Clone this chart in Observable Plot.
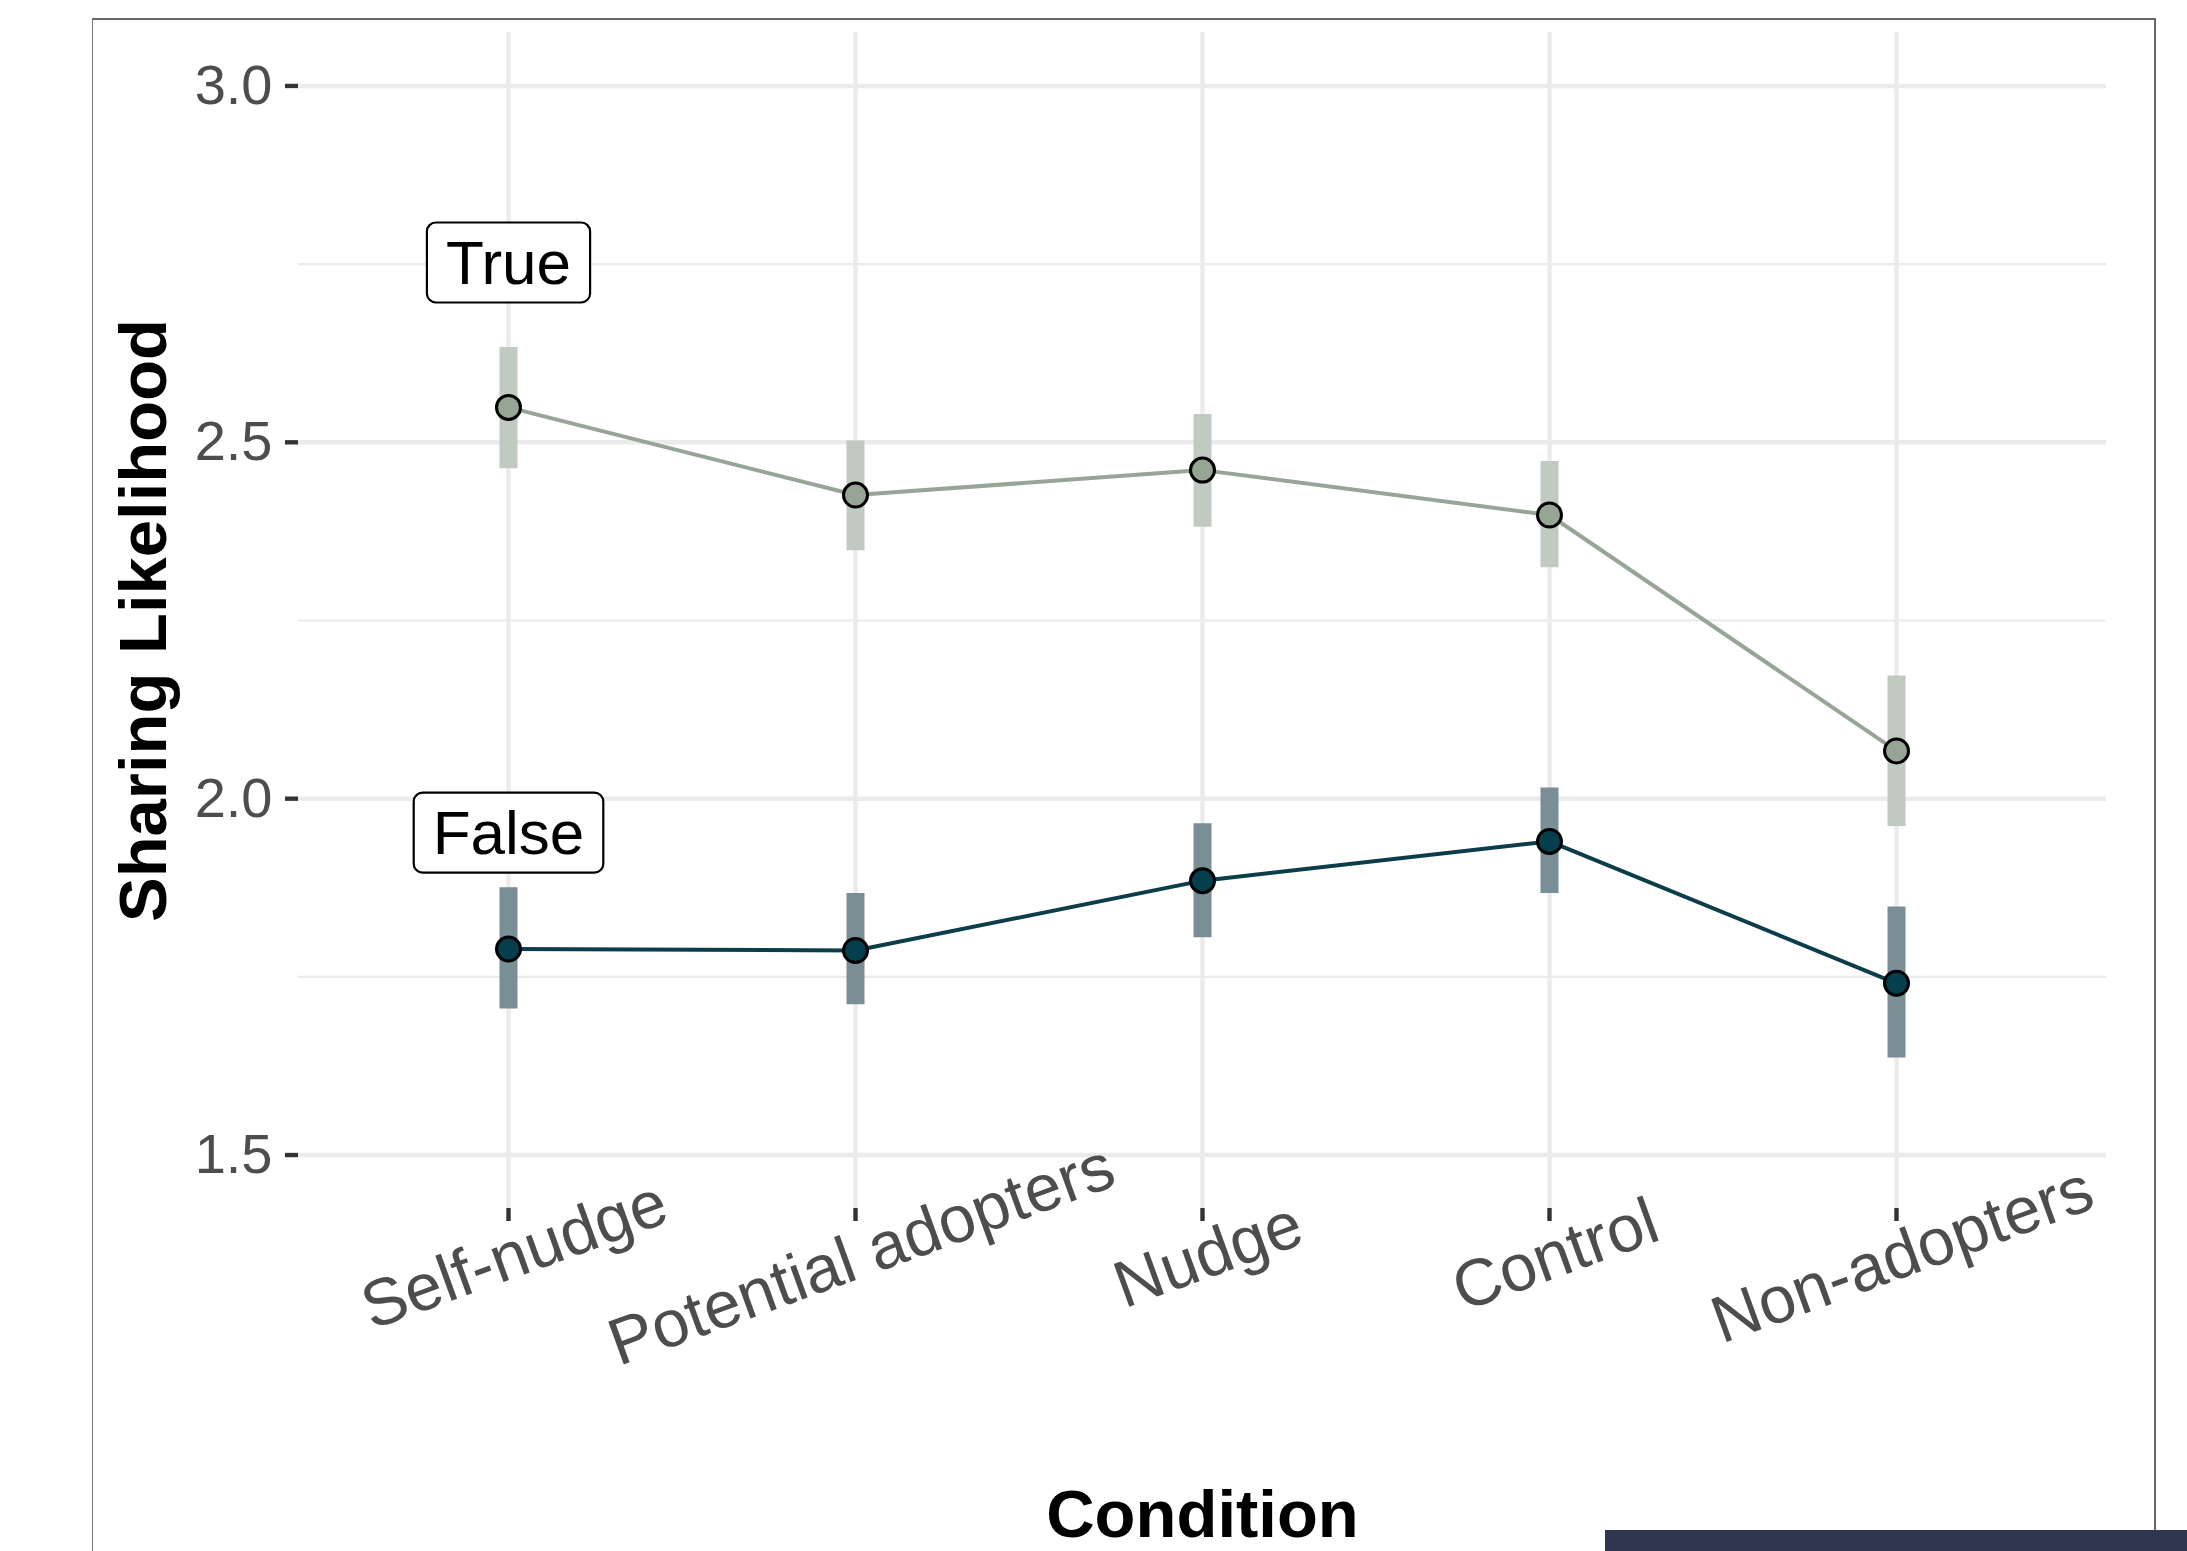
<!DOCTYPE html>
<html><head><meta charset="utf-8">
<script src="https://cdn.jsdelivr.net/npm/d3@7"></script>
<script src="https://cdn.jsdelivr.net/npm/@observablehq/plot@0.6"></script>
<style>
body{margin:0;background:#fff;}
#wrap{position:relative;width:2187px;height:1551px;overflow:hidden;font-family:"Liberation Sans",Arial,sans-serif;background:#fff;}
#frame{position:absolute;left:92px;top:18px;width:2064px;height:1600px;border-top:2px solid #666;border-left:1.5px solid #777;border-right:2px solid #666;box-sizing:border-box;}
#chart{position:absolute;left:0;top:0;}
#bar{position:absolute;left:1605px;top:1530px;width:582px;height:21px;background:#2f3750;}
</style></head><body>
<div id="wrap"><div id="frame"></div><div id="chart"></div><div id="bar"></div></div>
<script>
const categories = ["Self-nudge", "Potential adopters", "Nudge", "Control", "Non-adopters"];
const trueMean = [2.549, 2.426, 2.461, 2.398, 2.067];
const trueLow  = [2.463, 2.348, 2.381, 2.324, 1.961];
const trueHigh = [2.633, 2.502, 2.539, 2.473, 2.172];
const falseMean = [1.789, 1.787, 1.885, 1.940, 1.741];
const falseLow  = [1.705, 1.711, 1.805, 1.867, 1.636];
const falseHigh = [1.875, 1.867, 1.965, 2.015, 1.848];
const yTicks = [1.5, 2.0, 2.5, 3.0];
const yMinor = [1.75, 2.25, 2.75];
const labelText = ["True", "False"];
const labelY = [2.75, 1.95];
const xTitle = "Condition";
const yTitle = "Sharing Likelihood";

const trueRows = categories.map((c, i) => ({cond: c, mean: trueMean[i], lo: trueLow[i], hi: trueHigh[i]}));
const falseRows = categories.map((c, i) => ({cond: c, mean: falseMean[i], lo: falseLow[i], hi: falseHigh[i]}));
const labelRows = labelText.map((t, i) => ({text: t, cond: categories[0], y: labelY[i]}));

const font = '"Liberation Sans", Arial, Helvetica, sans-serif';
const grid = "#ebebeb";

const plot = Plot.plot({
  width: 2187, height: 1551,
  marginLeft: 298, marginRight: 81, marginTop: 32, marginBottom: 343,
  style: {fontFamily: font, background: "transparent", overflow: "visible"},
  x: {type: "point", domain: categories, padding: 0.6},
  y: {domain: [1.425, 3.075]},
  marks: [
    Plot.ruleY(yMinor, {stroke: grid, strokeWidth: 2.2}),
    Plot.ruleY(yTicks, {stroke: grid, strokeWidth: 4.4}),
    Plot.ruleX(categories, {stroke: grid, strokeWidth: 4.4}),
    Plot.ruleX(trueRows, {x: "cond", y1: "lo", y2: "hi", stroke: "#c1cac0", strokeWidth: 18}),
    Plot.ruleX(falseRows, {x: "cond", y1: "lo", y2: "hi", stroke: "#7a8e95", strokeWidth: 18}),
    Plot.line(trueRows, {x: "cond", y: "mean", stroke: "#97a596", strokeWidth: 4}),
    Plot.line(falseRows, {x: "cond", y: "mean", stroke: "#0b3d4a", strokeWidth: 4}),
    Plot.dot(trueRows, {x: "cond", y: "mean", r: 12, fill: "#97a594", stroke: "#000", strokeWidth: 3}),
    Plot.dot(falseRows, {x: "cond", y: "mean", r: 12, fill: "#053f4d", stroke: "#000", strokeWidth: 3}),
    Plot.axisY({ticks: yTicks, tickFormat: d3.format(".1f"), tickSize: 13, tickPadding: 13, fontSize: 56, fill: "#4d4d4d", stroke: "#333", strokeWidth: 4.4, label: null}),
    Plot.axisX({tickSize: 13, tickFormat: () => "", stroke: "#333", strokeWidth: 4.4, label: null}),
    Plot.text(categories, {x: d => d, text: d => d, frameAnchor: "bottom", dy: 47, dx: 6, rotate: -20, textAnchor: "middle", lineAnchor: "middle", fontSize: 66, fill: "#4d4d4d"}),
    Plot.text(labelRows, {x: "cond", y: "y", text: "text", fontSize: 62, fill: "#000", lineAnchor: "middle", textAnchor: "middle"}),
    Plot.text([yTitle], {text: d => d, frameAnchor: "left", dx: -133, rotate: -90, fontWeight: "bold", fontSize: 67, lineAnchor: "bottom", textAnchor: "middle", fill: "#000"}),
    Plot.text([xTitle], {text: d => d, frameAnchor: "bottom", dy: 328, fontWeight: "bold", fontSize: 67, lineAnchor: "bottom", textAnchor: "middle", fill: "#000"})
  ]
});
document.getElementById("chart").appendChild(plot);

// draw rounded label boxes behind the "True"/"False" labels
plot.querySelectorAll("text").forEach(t => {
  if (labelText.includes(t.textContent) && t.getAttribute("font-size") !== "56") {
    const bb = t.getBBox();
    const cy = bb.y + bb.height / 2;
    const r = document.createElementNS("http://www.w3.org/2000/svg", "rect");
    r.setAttribute("x", bb.x - 19);
    r.setAttribute("y", cy - 40);
    r.setAttribute("width", bb.width + 38);
    r.setAttribute("height", 80);
    r.setAttribute("rx", 9);
    r.setAttribute("fill", "#fff");
    r.setAttribute("stroke", "#000");
    r.setAttribute("stroke-width", 2.2);
    if (t.getAttribute("transform")) r.setAttribute("transform", t.getAttribute("transform"));
    t.parentNode.insertBefore(r, t);
  }
});
</script>
</body></html>
